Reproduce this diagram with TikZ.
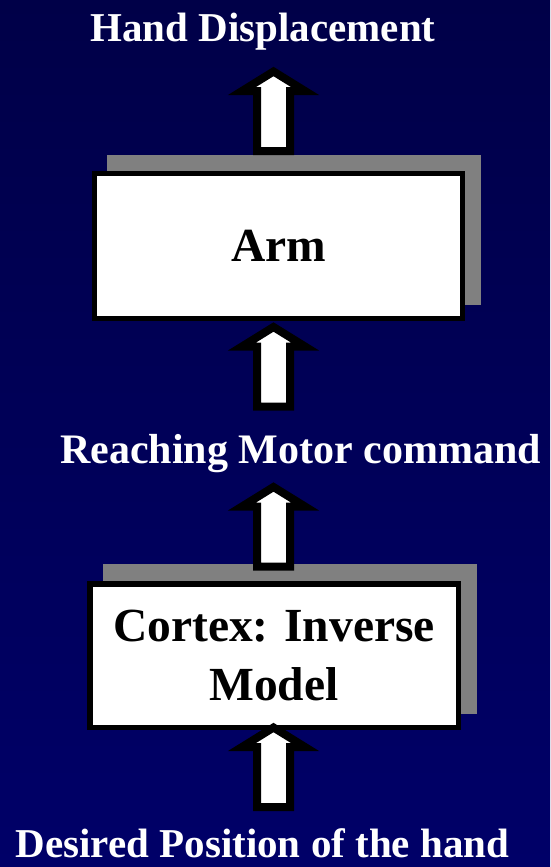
\documentclass[tikz,border=0pt]{standalone}
\usepackage{fontspec}
\setmainfont{Liberation Serif}
\definecolor{bgtop}{RGB}{0,0,72}
\definecolor{bgbot}{RGB}{0,0,104}
\definecolor{shadowgray}{RGB}{128,128,128}
\begin{document}
\begin{tikzpicture}[x=1pt,y=-1pt,
  boxstyle/.style={draw=black,fill=white,line width=5.5pt,inner sep=0pt,outer sep=0pt,
    align=center,font=\bfseries\fontsize{47.5}{59}\selectfont},
  labelstyle/.style={text=white,anchor=base,inner sep=0pt,font=\bfseries\fontsize{41}{49}\selectfont},
  shadowstyle/.style={fill=shadowgray},
  blockarrow/.pic={
    \draw[black,fill=white,line width=8pt,miter limit=10]
      (0,0) -- (31.5,19.5) -- (16.5,19.5) -- (16.5,79.5) -- (-16.5,79.5)
      -- (-16.5,19.5) -- (-31.5,19.5) -- cycle;
  }]
\useasboundingbox (0,0) rectangle (550,867);
\shade[top color=bgtop,bottom color=bgbot] (0,0) rectangle (550,867);

% shadows
\fill[shadowstyle] (107,155) rectangle (481,305);
\fill[shadowstyle] (103,564) rectangle (477,714);

% boxes
\node[boxstyle,minimum width=368pt,minimum height=145pt] (arm) at (278.5,246) {Arm};
\node[boxstyle,minimum width=368.5pt,minimum height=143.5pt] (cortex) at (274,655.5) {Cortex: Inverse\\Model};

% labels
\node[labelstyle] (hand) at (263,41.7) {Hand Displacement};
\node[labelstyle,font=\bfseries\fontsize{42}{50}\selectfont] (reach) at (300.5,463) {Reaching Motor command};
\node[labelstyle] (desired) at (262.5,857) {Desired Position of the hand};

% block arrows
\pic at (273.5,71.5) {blockarrow};
\pic at (273.5,327) {blockarrow};
\pic at (273.5,487) {blockarrow};
\pic at (273.5,727.5) {blockarrow};
\end{tikzpicture}
\end{document}
